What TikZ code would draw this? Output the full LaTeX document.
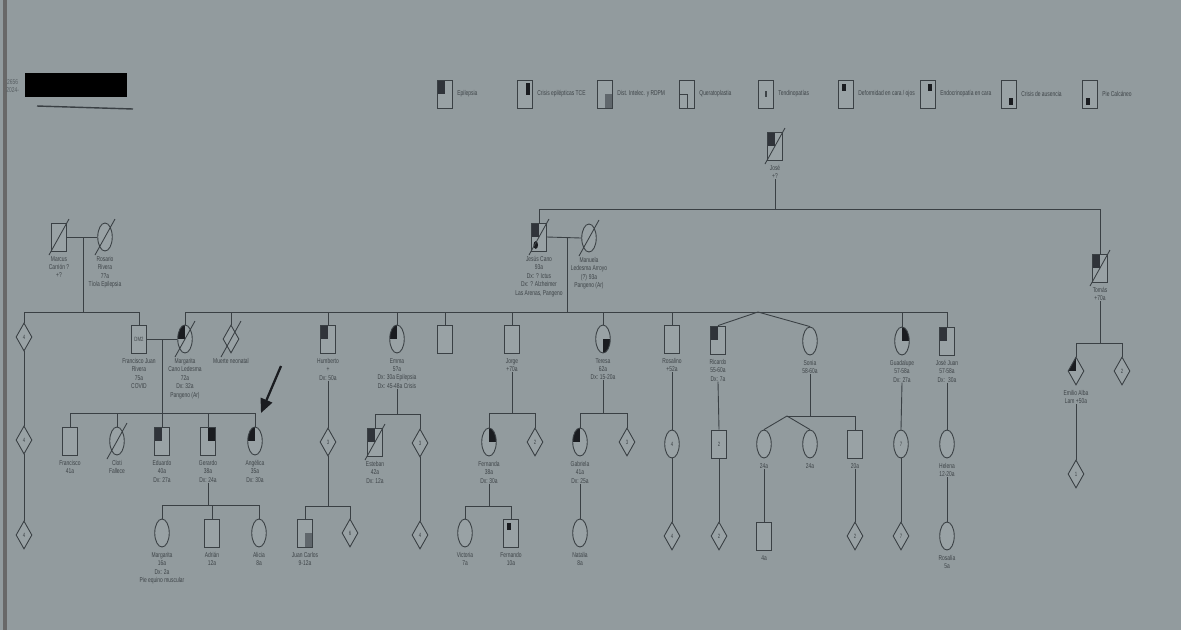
\documentclass[tikz,border=0pt]{standalone}
\usepackage{fontspec}
\newfontfamily\nf[FakeStretch=0.7]{Liberation Sans}
\usetikzlibrary{shapes.geometric,arrows.meta}
\definecolor{bg}{RGB}{146,155,158}
\definecolor{bgl}{RGB}{153,162,165}
\definecolor{ln}{RGB}{58,64,68}
\definecolor{tx}{RGB}{62,68,72}
\definecolor{dk}{RGB}{26,28,32}
\definecolor{dg}{RGB}{48,52,58}
\definecolor{mg}{RGB}{96,103,108}
\definecolor{edgestrip}{RGB}{104,104,104}
\newcommand\fUL[1]{\fill[#1] (path picture bounding box.north west) rectangle (path picture bounding box.center);}
\newcommand\fUR[1]{\fill[#1] (path picture bounding box.north east) rectangle (path picture bounding box.center);}
\newcommand\fLR[1]{\fill[#1] (path picture bounding box.south east) rectangle (path picture bounding box.center);}
\newcommand\fLL[1]{\fill[#1] (path picture bounding box.south west) rectangle (path picture bounding box.center);}
\newcommand\mUL{\fill[dk] ([shift={(3,4)}]path picture bounding box.north west) rectangle ++(4,7);}
\newcommand\mUR{\fill[dk] ([shift={(-3,4)}]path picture bounding box.north east) rectangle ++(-4,7);}
\newcommand\mLR{\fill[dk] ([shift={(-3,-3)}]path picture bounding box.south east) rectangle ++(-4,-7);}
\newcommand\mLL{\fill[dk] ([shift={(3,-3)}]path picture bounding box.south west) rectangle ++(4,-7);}
\newcommand\dec[1]{\draw[edge] ([shift={(-10,18)}]#1.center) -- ([shift={(10,-18)}]#1.center);}
\tikzset{
  sym/.style={draw=ln, line width=0.5pt, fill=bgl, inner sep=0pt, minimum width=0.29cm, minimum height=0.56cm,
    font=\nf\fontsize{3.5}{4}\selectfont, text=tx},
  male/.style={sym, rectangle},
  fem/.style={sym, ellipse},
  unk/.style={sym, diamond, minimum width=0.32cm, minimum height=0.56cm},
  lbl/.style={font=\nf\fontsize{4}{4.8}\selectfont, text=tx, align=center, inner sep=0pt, anchor=north},
  leglbl/.style={lbl, anchor=west},
  edge/.style={draw=ln, line width=0.5pt},
}
\newcommand\plbl[3]{\node[lbl] (#1L) at ([yshift=-2.5pt]#1.south) {#3};}
\begin{document}
\begin{tikzpicture}[x=0.02cm,y=-0.02cm]
\useasboundingbox (0,0) rectangle (1181,630);
\fill[bg] (0,0) rectangle (1181,630);
\fill[edgestrip] (3,0) rectangle (7,630);

% header
\node[lbl, anchor=west, text=tx!70!bg] (hdr) at (6,86) {2656\\2024-};
\fill[black] (25,73) rectangle (127,97);
\draw[ln, line width=0.8pt] (37,106) -- (133,109);

% legend
\foreach \n/\xx in {1/445,2/525,3/605,4/687,5/766,6/846,7/928,8/1009,9/1090}
  \node[male] (leg\n) at (\xx,94) {};
\node[male, path picture={\fUL{dg}}] at (leg1) {};
\node[male, path picture={\fill[dk] ([shift={(-2,3)}]path picture bounding box.north east) rectangle ([shift={(1,1)}]path picture bounding box.center);}] at (leg2) {};
\node[male, path picture={\fLR{mg}}] at (leg3) {};
\node[male, path picture={\draw[ln, line width=0.4pt] (path picture bounding box.west) rectangle (path picture bounding box.south);}] at (leg4) {};
\node[male, path picture={\fill[tx] ([shift={(-0.8,-3)}]path picture bounding box.center) rectangle ++(1.6,6);}] at (leg5) {};
\node[male, path picture={\mUL}] at (leg6) {};
\node[male, path picture={\mUR}] at (leg7) {};
\node[male, path picture={\mLR}] at (leg8) {};
\node[male, path picture={\mLL}] at (leg9) {};
\node[leglbl] (leg1L) at ([xshift=2.5pt]leg1.east) {Epilepsia};
\node[leglbl] (leg2L) at ([xshift=2.5pt]leg2.east) {Crisis epilépticas TCE};
\node[leglbl] (leg3L) at ([xshift=2.5pt]leg3.east) {Dist. Intelec. y RDPM};
\node[leglbl] (leg4L) at ([xshift=2.5pt]leg4.east) {Queratoplastia};
\node[leglbl] (leg5L) at ([xshift=2.5pt]leg5.east) {Tendinopatías};
\node[leglbl] (leg6L) at ([xshift=2.5pt]leg6.east) {Deformidad en cara / ojos};
\node[leglbl] (leg7L) at ([xshift=2.5pt]leg7.east) {Endocrinopatía en cara};
\node[leglbl] (leg8L) at ([xshift=2.5pt]leg8.east) {Crisis de ausencia};
\node[leglbl] (leg9L) at ([xshift=2.5pt]leg9.east) {Pie Calcáneo};

% generation I
\node[male, path picture={\fUL{dg}}] (jose) at (775,146) {};
\plbl{jose}{}{José\\+?}

% generation II
\node[male, path picture={\fUL{dg}\fill[dk] ([shift={(4,-6)}]path picture bounding box.south west) ellipse [x radius=1.3pt, y radius=2.2pt];}] (jesus) at (539,237) {};
\plbl{jesus}{}{Jesús Cano\\93a\\Dx: ? Ictus\\Dx: ? Alzheimer\\Las Arenas, Pangeno}
\node[fem] (manuela) at (589,238) {};
\plbl{manuela}{}{Manuela\\Ledesma Arroyo\\(?) 93a\\Pangeno (Ar)}
\node[male, path picture={\fUL{dg}}] (tomas) at (1100,268) {};
\plbl{tomas}{}{Tomás\\+70a}

\node[male] (marcus) at (59,237) {};
\plbl{marcus}{}{Marcus\\Carrión ?\\+?}
\node[fem] (rosario) at (105,237) {};
\plbl{rosario}{}{Rosario\\Rivera\\7?a\\Tío/a Epilepsia}

% generation III
\node[unk] (ld1) at (24,337) {4};
\node[male] (fjuan) at (139,339) {DM2};
\plbl{fjuan}{}{Francisco Juan\\Rivera\\75a\\COVID}
\node[fem, path picture={\fUL{dk}}] (margarita) at (185,339) {};
\plbl{margarita}{}{Margarita\\Cano Ledesma\\72a\\Dx: 32a\\Pangeno (Ar)}
\node[unk] (neo) at (231,339) {};
\plbl{neo}{}{Muerte neonatal}
\node[male, path picture={\fUL{dg}}] (humberto) at (328,339) {};
\plbl{humberto}{}{Humberto\\+\\Dx: 50a}
\node[fem, path picture={\fUL{dk}}] (emma) at (397,339) {};
\plbl{emma}{}{Emma\\5?a\\Dx: 30a Epilepsia\\Dx: 45-48a Crisis}
\node[male] (esq) at (445,339) {};
\node[male] (jorge) at (512,339) {};
\plbl{jorge}{}{Jorge\\+70a}
\node[fem, path picture={\fLR{dk}}] (teresa) at (603,339) {};
\plbl{teresa}{}{Teresa\\62a\\Dx: 15-20a}
\node[male] (rosalino) at (672,339) {};
\plbl{rosalino}{}{Rosalino\\+52a}
\node[male, path picture={\fUL{dg}}] (ricardo) at (718,340) {};
\plbl{ricardo}{}{Ricardo\\55-60a\\Dx: 7a}
\node[fem] (sonia) at (810,341) {};
\plbl{sonia}{}{Sonia\\58-60a}
\node[fem, path picture={\fUR{dk}}] (guadalupe) at (902,341) {};
\plbl{guadalupe}{}{Guadalupe\\57-58a\\Dx: 27a}
\node[male, path picture={\fUL{dg}}] (josejuan) at (947,341) {};
\plbl{josejuan}{}{José Juan\\57-58a\\Dx: ~30a}

\node[unk, path picture={\fUL{dk}}] (emilio) at (1076,371) {};
\plbl{emilio}{}{Emilio Alba\\Lam +50a}
\node[unk] (tdia) at (1122,371) {2};
\node[unk] (emc) at (1076,474) {1};

% generation IV
\node[unk] (ld2) at (24,440) {4};
\node[male] (francisco) at (70,441) {};
\plbl{francisco}{}{Francisco\\41a}
\node[fem] (cloti) at (117,441) {};
\plbl{cloti}{}{Cloti\\Fallece}
\node[male, path picture={\fUL{dg}}] (eduardo) at (162,441) {};
\plbl{eduardo}{}{Eduardo\\40a\\Dx: 27a}
\node[male, path picture={\fUR{dk}}] (gerardo) at (208,441) {};
\plbl{gerardo}{}{Gerardo\\38a\\Dx: 24a}
\node[fem, path picture={\fUL{dk}}] (angelica) at (255,441) {};
\plbl{angelica}{}{Angélica\\35a\\Dx: 30a}
\node[unk] (hdia) at (328,442) {3};
\node[male, path picture={\fUL{dg}}] (esteban) at (375,442) {};
\plbl{esteban}{}{Esteban\\42a\\Dx: 12a}
\node[unk] (edia) at (420,443) {3};
\node[fem, path picture={\fUR{dk}}] (fernanda) at (489,442) {};
\plbl{fernanda}{}{Fernanda\\38a\\Dx: 30a}
\node[unk] (jdia) at (535,442) {2};
\node[fem, path picture={\fUL{dk}}] (gabriela) at (580,442) {};
\plbl{gabriela}{}{Gabriela\\41a\\Dx: 25a}
\node[unk] (tdia2) at (627,442) {3};
\node[fem] (r4) at (672,444) {4};
\node[male] (r2) at (719,444) {2};
\node[fem] (stw1) at (764,444) {};
\plbl{stw1}{}{24a}
\node[fem] (stw2) at (810,444) {};
\plbl{stw2}{}{24a}
\node[male] (ssq) at (855,444) {};
\plbl{ssq}{}{20a}
\node[fem] (g7) at (901,444) {7};
\node[fem] (helena) at (947,444) {};
\plbl{helena}{}{Helena\\12-20a}

% generation V
\node[unk] (ld3) at (24,535) {4};
\node[fem] (margarita2) at (162,533) {};
\plbl{margarita2}{}{Margarita\\16a\\Dx: 2a\\Pie equino muscular}
\node[male] (adrian) at (212,533) {};
\plbl{adrian}{}{Adrián\\12a}
\node[fem] (alicia) at (259,533) {};
\plbl{alicia}{}{Alicia\\8a}
\node[male, path picture={\fLR{mg}}] (jcarlos) at (305,533) {};
\plbl{jcarlos}{}{Juan Carlos\\9-12a}
\node[unk] (hdia2) at (350,533) {6};
\node[unk] (edia2) at (420,535) {4};
\node[fem] (victoria) at (465,533) {};
\plbl{victoria}{}{Victoria\\7a}
\node[male, path picture={\mUL}] (fernando) at (511,533) {};
\plbl{fernando}{}{Fernando\\10a}
\node[fem] (natalia) at (580,533) {};
\plbl{natalia}{}{Natalia\\8a}
\node[unk] (r4c) at (672,536) {4};
\node[unk] (r2c) at (719,536) {2};
\node[male] (stwc) at (764,536) {};
\plbl{stwc}{}{4a}
\node[unk] (ssqc) at (855,536) {2};
\node[unk] (g7c) at (901,536) {7};
\node[fem] (rosalia) at (947,536) {};
\plbl{rosalia}{}{Rosalía\\5a}

% ---------- connectors ----------
\coordinate (jl) at (539,209);
\coordinate (jr) at (1100,209);
\draw[edge] (jl) -- (jr);
\draw[edge] (joseL.south) -- (joseL.south |- jl);
\draw[edge] (jl) -- (jesus.north);
\draw[edge] (jr) -- (tomas.north);

\draw[edge] (jesus.east) -- (manuela.west);
\coordinate (jm) at (567,237);
\coordinate (s2l) at (185,312);
\coordinate (s2r) at (947,312);
\draw[edge] (jm) -- (jm |- s2l);
\draw[edge] (s2l) -- (s2r);
\foreach \c in {margarita,neo,humberto,emma,esq,jorge,teresa,rosalino,guadalupe,josejuan}
  \draw[edge] (\c.north) -- (\c.north |- s2l);
\coordinate (tw) at (758,312);
\draw[edge] (tw) -- (ricardo.north);
\draw[edge] (tw) -- (sonia.north);

\draw[edge] (marcus.east) -- (rosario.west);
\coordinate (mr) at (83,237);
\coordinate (s1l) at (24,312);
\coordinate (s1r) at (139,312);
\draw[edge] (mr) -- (mr |- s1l);
\draw[edge] (s1l) -- (s1r);
\draw[edge] (ld1.north) -- (ld1.north |- s1l);
\draw[edge] (fjuan.north) -- (fjuan.north |- s1l);
\draw[edge] (ld1.south) -- (ld2.north);
\draw[edge] (ld2.south) -- (ld3.north);

\draw[edge] (fjuan.east) -- (margarita.west);
\coordinate (fm) at (162,339);
\coordinate (s3l) at (70,413);
\coordinate (s3r) at (255,413);
\draw[edge] (fm) -- (fm |- s3l);
\draw[edge] (s3l) -- (s3r);
\foreach \c in {francisco,cloti,eduardo,gerardo,angelica}
  \draw[edge] (\c.north) -- (\c.north |- s3l);

\coordinate (s4l) at (162,505);
\coordinate (s4r) at (259,505);
\draw[edge] (gerardoL.south) -- (gerardoL.south |- s4l);
\draw[edge] (s4l) -- (s4r);
\foreach \c in {margarita2,adrian,alicia}
  \draw[edge] (\c.north) -- (\c.north |- s4l);

\draw[edge] (humbertoL.south) -- (hdia.north);
\coordinate (s5l) at (305,506);
\coordinate (s5r) at (350,506);
\draw[edge] (hdia.south) -- (hdia.south |- s5l);
\draw[edge] (s5l) -- (s5r);
\draw[edge] (jcarlos.north) -- (jcarlos.north |- s5l);
\draw[edge] (hdia2.north) -- (hdia2.north |- s5l);

\coordinate (s6l) at (375,414);
\coordinate (s6r) at (420,414);
\draw[edge] (emmaL.south) -- (emmaL.south |- s6l);
\draw[edge] (s6l) -- (s6r);
\draw[edge] (esteban.north) -- (esteban.north |- s6l);
\draw[edge] (edia.north) -- (edia.north |- s6l);
\draw[edge] (edia.south) -- (edia2.north);

\coordinate (s7l) at (489,413);
\coordinate (s7r) at (535,413);
\draw[edge] (jorgeL.south) -- (jorgeL.south |- s7l);
\draw[edge] (s7l) -- (s7r);
\draw[edge] (fernanda.north) -- (fernanda.north |- s7l);
\draw[edge] (jdia.north) -- (jdia.north |- s7l);
\coordinate (s8l) at (465,506);
\coordinate (s8r) at (511,506);
\draw[edge] (fernandaL.south) -- (fernandaL.south |- s8l);
\draw[edge] (s8l) -- (s8r);
\draw[edge] (victoria.north) -- (victoria.north |- s8l);
\draw[edge] (fernando.north) -- (fernando.north |- s8l);

\coordinate (s9l) at (580,413);
\coordinate (s9r) at (627,413);
\draw[edge] (teresaL.south) -- (teresaL.south |- s9l);
\draw[edge] (s9l) -- (s9r);
\draw[edge] (gabriela.north) -- (gabriela.north |- s9l);
\draw[edge] (tdia2.north) -- (tdia2.north |- s9l);
\draw[edge] (gabrielaL.south) -- (natalia.north);

\draw[edge] (rosalinoL.south) -- (r4.north);
\draw[edge] (r4.south) -- (r4c.north);
\draw[edge] (ricardoL.south) -- (r2.north);
\draw[edge] (r2.south) -- (r2c.north);

\coordinate (s10l) at (787,416);
\coordinate (s10r) at (855,416);
\draw[edge] (soniaL.south) -- (soniaL.south |- s10l);
\draw[edge] (s10l) -- (s10r);
\draw[edge] (s10l) -- (stw1.north);
\draw[edge] (s10l) -- (stw2.north);
\draw[edge] (ssq.north) -- (ssq.north |- s10r);
\draw[edge] (stw1L.south) -- (stwc.north);
\draw[edge] (ssqL.south) -- (ssqc.north);

\draw[edge] (guadalupeL.south) -- (g7.north);
\draw[edge] (g7.south) -- (g7c.north);
\draw[edge] (josejuanL.south) -- (helena.north);
\draw[edge] (helenaL.south) -- (rosalia.north);

\coordinate (s11l) at (1076,343);
\coordinate (s11r) at (1122,343);
\draw[edge] (tomasL.south) -- (tomasL.south |- s11l);
\draw[edge] (s11l) -- (s11r);
\draw[edge] (emilio.north) -- (emilio.north |- s11l);
\draw[edge] (tdia.north) -- (tdia.north |- s11l);
\draw[edge] (emilioL.south) -- (emc.north);

% deceased marks
\dec{jose}
\dec{jesus}
\dec{manuela}
\dec{tomas}
\dec{marcus}
\dec{rosario}
\dec{margarita}
\dec{neo}
\dec{cloti}
\dec{esteban}

% proband arrow
\coordinate (arT) at (281,366);
\coordinate (arH) at (261,413);
\draw[dk, line width=1.3pt, -{Triangle[length=8pt, width=7pt]}] (arT) -- (arH);
\end{tikzpicture}
\end{document}
